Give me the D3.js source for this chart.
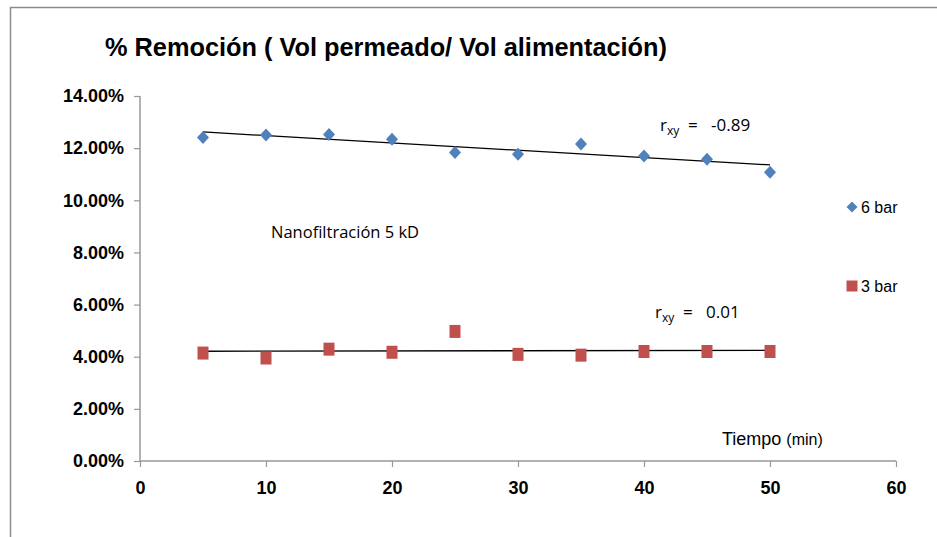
<!DOCTYPE html>
<html>
<head>
<meta charset="utf-8">
<script src="https://cdn.jsdelivr.net/npm/d3@7"></script>
<style>
  body { margin: 0; background: #fff; }
  svg { display: block; }
</style>
</head>
<body>
<div id="chart"></div>
<script>
// tiempo (min)
const tiempos = [5, 10, 15, 20, 25, 30, 35, 40, 45, 50];
// % remoción at 6 bar and 3 bar
const remocion6bar = [0.1241, 0.1250, 0.1252, 0.1234, 0.1183, 0.1177, 0.1216, 0.1170, 0.1157, 0.1108];
const remocion3bar = [0.0414, 0.0395, 0.0429, 0.0417, 0.0497, 0.0409, 0.0406, 0.0420, 0.0420, 0.0420];
const xTicks = [0, 10, 20, 30, 40, 50, 60];
const yTicks = [0, 0.02, 0.04, 0.06, 0.08, 0.10, 0.12, 0.14];
const seriesNames = ['6 bar', '3 bar'];
const rxyLabels = ['-0.89', '0.01'];

const width = 937, height = 537;
const blue = '#4f81bd', red = '#c0504d';

const svg = d3.select('#chart').append('svg')
  .attr('width', width)
  .attr('height', height);

// chart area frame
svg.append('rect')
  .attr('x', 10.5).attr('y', 7.5)
  .attr('width', 940).attr('height', 540)
  .attr('fill', 'none')
  .attr('stroke', '#8c8c8c')
  .attr('stroke-width', 1.5);

const xScale = d3.scaleLinear().domain([0, 60]).range([140, 896]);
const yScale = d3.scaleLinear().domain([0, 0.14]).range([461, 96]);

// title
svg.append('text')
  .attr('x', 105).attr('y', 56)
  .attr('textLength', 562)
  .attr('lengthAdjust', 'spacingAndGlyphs')
  .style('font-family', 'Liberation Sans, Arial, sans-serif')
  .style('font-weight', 'bold')
  .style('font-size', '26px')
  .style('fill', '#000')
  .text('% Remoción ( Vol permeado/ Vol alimentación)');

// y axis
svg.append('g')
  .attr('transform', 'translate(140,0)')
  .call(d3.axisLeft(yScale).tickValues(yTicks).tickSize(6).tickPadding(10)
    .tickFormat(d => (d * 100).toFixed(2) + '%'))
  .call(g => g.select('.domain').attr('stroke', '#999').attr('stroke-width', 1.5).attr('d', 'M0,96V461'))
  .call(g => g.selectAll('.tick line').attr('stroke', '#999').attr('stroke-width', 1.2))
  .call(g => g.selectAll('.tick text')
    .style('font-family', 'Liberation Sans, Arial, sans-serif')
    .style('font-weight', 'bold')
    .style('font-size', '18px')
    .attr('fill', '#000'));

// x axis
svg.append('g')
  .attr('transform', 'translate(0,461)')
  .call(d3.axisBottom(xScale).tickValues(xTicks).tickSize(6).tickPadding(14))
  .call(g => g.select('.domain').attr('stroke', '#999').attr('stroke-width', 1.5).attr('d', 'M140,0H896'))
  .call(g => g.selectAll('.tick line').attr('stroke', '#999').attr('stroke-width', 1.2))
  .call(g => g.selectAll('.tick text')
    .style('font-family', 'Liberation Sans, Arial, sans-serif')
    .style('font-weight', 'bold')
    .style('font-size', '18px')
    .attr('fill', '#000'));

// linear trend lines
function fit(xs, ys) {
  const mx = d3.mean(xs), my = d3.mean(ys);
  const sxy = d3.sum(xs, (x, i) => (x - mx) * (ys[i] - my));
  const sxx = d3.sum(xs, x => (x - mx) * (x - mx));
  const b = sxy / sxx;
  return x => my + b * (x - mx);
}
const line = d3.line().x(d => xScale(d[0])).y(d => yScale(d[1]));
[remocion6bar, remocion3bar].forEach(vals => {
  const f = fit(tiempos, vals);
  const ends = d3.extent(tiempos);
  svg.append('path')
    .attr('d', line(ends.map(x => [x, f(x)])))
    .attr('fill', 'none')
    .attr('stroke', '#000')
    .attr('stroke-width', 1.3);
});

const diamond = 'M0,-6.5L6,0L0,6.5L-6,0Z';

// 6 bar points
svg.append('g').selectAll('path')
  .data(tiempos.map((t, i) => [t, remocion6bar[i]]))
  .join('path')
  .attr('d', diamond)
  .attr('transform', d => 'translate(' + xScale(d[0]) + ',' + yScale(d[1]) + ')')
  .attr('fill', blue);

// 3 bar points
svg.append('g').selectAll('rect')
  .data(tiempos.map((t, i) => [t, remocion3bar[i]]))
  .join('rect')
  .attr('x', d => xScale(d[0]) - 5.5)
  .attr('y', d => yScale(d[1]) - 6.5)
  .attr('width', 11)
  .attr('height', 13)
  .attr('fill', red);

// legend
const legend = svg.append('g')
  .style('font-family', 'Liberation Sans, Arial, sans-serif')
  .style('font-size', '16px');
legend.append('path')
  .attr('d', 'M0,-5.5L5.5,0L0,5.5L-5.5,0Z')
  .attr('transform', 'translate(852,207)')
  .attr('fill', blue);
legend.append('text').attr('x', 861).attr('y', 213).text(seriesNames[0]);
legend.append('rect')
  .attr('x', 846.5).attr('y', 280.5).attr('width', 11).attr('height', 11)
  .attr('fill', red);
legend.append('text').attr('x', 861).attr('y', 292).text(seriesNames[1]);

// annotations
const ann = svg.append('g')
  .style('font-family', 'Open Sans, Noto Sans, sans-serif')
  .style('fill', '#000');
ann.append('text')
  .attr('x', 271).attr('y', 238)
  .style('font-size', '16.5px')
  .text('Nanofiltración 5 kD');

function rxy(x, y, val) {
  const t = ann.append('text').attr('x', x).attr('y', y).style('font-size', '17px');
  t.append('tspan').text('r');
  t.append('tspan').attr('dy', 4).style('font-size', '12px').text('xy');
  t.append('tspan').attr('dy', -4).attr('xml:space', 'preserve').text('  =   ' + val);
}
rxy(660, 131, rxyLabels[0]);
rxy(655, 318, rxyLabels[1]);

// axis title
const xt = svg.append('text')
  .attr('x', 722).attr('y', 445)
  .attr('xml:space', 'preserve')
  .style('font-family', 'Liberation Sans, Arial, sans-serif')
  .style('fill', '#000');
xt.append('tspan').style('font-size', '18px').text('Tiempo ');
xt.append('tspan').style('font-size', '16px').text('(min)');
</script>
</body>
</html>
